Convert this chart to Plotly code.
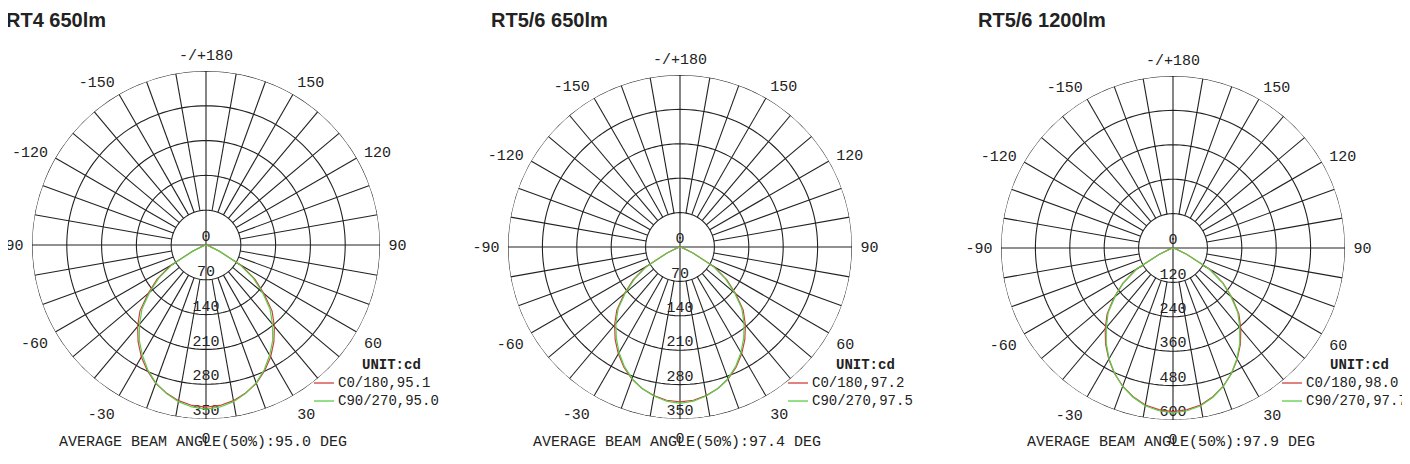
import plotly.graph_objects as go

W, H = 1410, 464
OX, OY = 9, 8  # page offset compensation

titles = ["RT4 650lm", "RT5/6 650lm", "RT5/6 1200lm"]
radial_steps = [70, 70, 120]
angles = [0, 5, 10, 15, 20, 25, 30, 35, 40, 45, 50, 55, 60, 65, 70, 80, 90]
c0_values = [
    [326, 324, 318, 308, 296, 279, 260, 238, 214, 188, 152, 120, 82, 30, 8, 2, 0],
    [315, 313, 307, 298, 286, 270, 251, 230, 207, 182, 148, 116, 80, 30, 8, 2, 0],
    [571, 566, 556, 537, 513, 483, 448, 410, 368, 325, 268, 213, 148, 54, 14, 3, 0],
]
c90_values = [
    [330, 327, 320, 309, 295, 277, 256, 234, 208, 182, 148, 116, 78, 28, 6, 1, 0],
    [318, 315, 308, 298, 285, 268, 248, 226, 203, 178, 145, 113, 77, 28, 6, 1, 0],
    [575, 570, 559, 539, 514, 482, 446, 406, 362, 320, 264, 210, 145, 52, 12, 2, 0],
]
c0_labels = ["C0/180,95.1", "C0/180,97.2", "C0/180,98.0"]
c90_labels = ["C90/270,95.0", "C90/270,97.5", "C90/270,97.7"]
beam_texts = ["AVERAGE BEAM ANGLE(50%):95.0 DEG",
              "AVERAGE BEAM ANGLE(50%):97.4 DEG",
              "AVERAGE BEAM ANGLE(50%):97.9 DEG"]
tick_vals = list(range(0, 360, 30))
tick_text = ["0", "30", "60", "90", "120", "150", "-/+180", "-150", "-120", "-90", "-60", "-30"]

centers = [(207, 245, 171), (681, 247, 169), (1174, 248, 169)]
title_x = [5, 490, 977]
beam_x = [58, 532, 1026]
legend_x = [315, 789, 1283]

MONO = "Liberation Mono"
fig = go.Figure()
annotations = []
shapes = []


def px(x):
    return (x - OX) / W


def py(y):
    return 1 - (y - OY) / H


for i in range(3):
    pid = "polar" if i == 0 else f"polar{i+1}"
    sub = pid
    step = radial_steps[i]
    rmax = step * 5
    ct, cr = [], []
    for k in range(1, 6):
        ct += list(range(0, 361, 2)) + [None]
        cr += [k * step] * 181 + [None]
    fig.add_trace(go.Scatterpolar(theta=ct, r=cr, mode="lines", subplot=sub,
                                  line=dict(color="#222", width=1.1), hoverinfo="skip", showlegend=False))
    st, sr = [], []
    for a in range(0, 360, 10):
        r0 = 0 if a % 90 == 0 else step
        st += [a, a, None]
        sr += [r0, rmax, None]
    fig.add_trace(go.Scatterpolar(theta=st, r=sr, mode="lines", subplot=sub,
                                  line=dict(color="#222", width=1.1), hoverinfo="skip", showlegend=False))
    fig.add_trace(go.Scatterpolar(theta=[0] * 6, r=[k * step for k in range(6)], mode="text",
                                  text=[str(k * step) for k in range(6)], textposition="top center",
                                  textfont=dict(family=MONO, size=15, color="#222"), subplot=sub,
                                  hoverinfo="skip", showlegend=False))
    for vals, col in ((c0_values[i], "#d0403a"), (c90_values[i], "#5ad04a")):
        th = [-a for a in reversed(angles)] + angles[1:]
        rr = list(reversed(vals)) + vals[1:]
        fig.add_trace(go.Scatterpolar(theta=th, r=rr, mode="lines", subplot=sub,
                                      line=dict(color=col, width=1.2), hoverinfo="skip", showlegend=False))
    cx, cy, rad = centers[i]
    rad += 3
    fig.layout[pid] = dict(
        domain=dict(x=[px(cx - rad), px(cx + rad)], y=[py(cy + rad), py(cy - rad)]),
        bgcolor="white",
        radialaxis=dict(visible=False, range=[0, rmax]),
        angularaxis=dict(rotation=270, direction="counterclockwise", tickvals=tick_vals, ticktext=tick_text,
                         showgrid=False, showline=False, ticks="outside", ticklen=5, tickcolor="rgba(0,0,0,0)",
                         tickfont=dict(family=MONO, size=15, color="#222")),
    )
    annotations.append(dict(x=px(title_x[i]), y=py(20), xref="paper", yref="paper", xanchor="left",
                            yanchor="middle", showarrow=False, text=f"<b>{titles[i]}</b>",
                            font=dict(family="Liberation Sans", size=20, color="#222")))
    annotations.append(dict(x=px(beam_x[i]), y=py(442), xref="paper", yref="paper", xanchor="left",
                            yanchor="middle", showarrow=False, text=beam_texts[i],
                            font=dict(family=MONO, size=15, color="#222")))
    lx = legend_x[i]
    annotations.append(dict(x=px(lx + 46), y=py(365), xref="paper", yref="paper", xanchor="left",
                            yanchor="middle", showarrow=False, text="<b>UNIT:cd</b>",
                            font=dict(family=MONO, size=14, color="#222")))
    for j, (lab, col) in enumerate(((c0_labels[i], "#d0403a"), (c90_labels[i], "#5ad04a"))):
        yy = 383 + 18 * j
        shapes.append(dict(type="line", xref="paper", yref="paper", x0=px(lx), x1=px(lx + 20),
                           y0=py(yy), y1=py(yy), line=dict(color=col, width=1.3)))
        annotations.append(dict(x=px(lx + 22), y=py(yy), xref="paper", yref="paper", xanchor="left",
                                yanchor="middle", showarrow=False, text=lab,
                                font=dict(family=MONO, size=14, color="#222")))

fig.update_layout(width=W, height=H, margin=dict(l=0, r=0, t=0, b=0), paper_bgcolor="white",
                  annotations=annotations, shapes=shapes, showlegend=False)
fig.write_html("out.html")
